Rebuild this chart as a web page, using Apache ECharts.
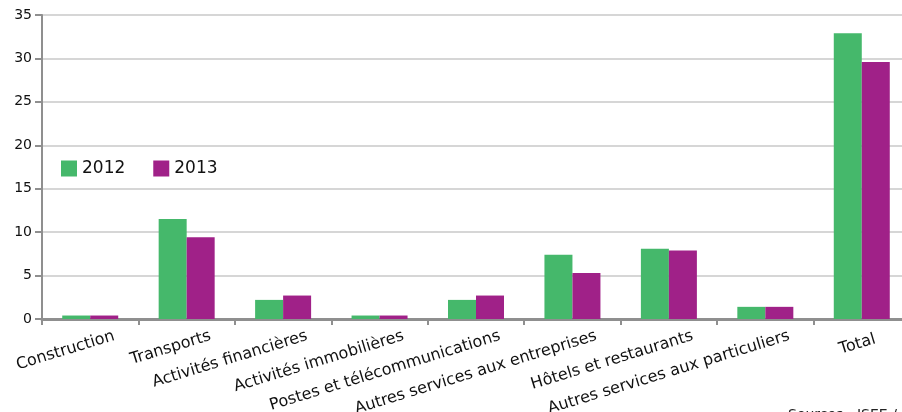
<!DOCTYPE html>
<html>
<head>
<meta charset="utf-8">
<script src="https://cdn.jsdelivr.net/npm/echarts@6/dist/echarts.min.js"></script>
<style>
	html, body { margin: 0; padding: 0; background: #fff; }
	#chartDom { width: 902px; height: 412px; }
</style>
</head>
<body>
<div id="chartDom"></div>
<script>
var categories = ['Construction', 'Transports', 'Activités financières', 'Activités immobilières',
	'Postes et télécommunications', 'Autres services aux entreprises', 'Hôtels et restaurants',
	'Autres services aux particuliers', 'Total'];
var values2012 = [0.4, 11.5, 2.2, 0.4, 2.2, 7.4, 8.1, 1.4, 32.9];
var values2013 = [0.4, 9.4, 2.7, 0.4, 2.7, 5.3, 7.9, 1.4, 29.6];
var seriesNames = ['2012', '2013'];
var sourceText = 'Sources : ISEE / IEOM';

barchart();

function barchart() {
	var myChart = echarts.init(document.getElementById('chartDom'));
	var font = 'DejaVu Sans';
	var option = {
		animation: false,
		textStyle: { fontFamily: font },
		legend: {
			left: 61,
			top: 160,
			padding: 0,
			itemWidth: 16,
			itemHeight: 16,
			itemGap: 28,
			icon: 'rect',
			textStyle: { color: '#111', fontSize: 17, fontFamily: font },
			data: seriesNames
		},
		graphic: [{
			type: 'text',
			left: 788,
			top: 408,
			style: { text: sourceText, fill: '#222', font: '14px DejaVu Sans' }
		}],
		grid: {
			left: 42,
			right: -8,
			top: 15,
			bottom: 93,
			outerBoundsMode: 'none',
			containLabel: false
		},
		xAxis: {
			type: 'category',
			data: categories,
			axisLine: {
				lineStyle: { color: '#8f8f8f', width: 3 }
			},
			axisTick: {
				show: true,
				length: 6,
				lineStyle: { color: '#8f8f8f', width: 2 }
			},
			axisLabel: {
				interval: 0,
				rotate: 17,
				margin: 24,
				color: '#111',
				fontSize: 16,
				fontFamily: font,
				padding: [0, -25, 0, 0],
				// the last label sits a bit closer to its tick
				formatter: function(v) {
					return v === 'Total' ? '{t|' + v + '}' : v;
				},
				rich: {
					t: { fontSize: 16, fontFamily: font, color: '#111', padding: [0, 11, 0, 0] }
				}
			}
		},
		yAxis: {
			type: 'value',
			min: 0,
			max: 35,
			interval: 5,
			axisLine: {
				show: true,
				lineStyle: { color: '#8f8f8f', width: 2 }
			},
			axisTick: {
				show: true,
				length: 7,
				lineStyle: { color: '#8f8f8f', width: 2 }
			},
			splitLine: {
				lineStyle: { color: '#d6d6d6', width: 2 }
			},
			axisLabel: {
				color: '#111',
				fontSize: 14,
				fontFamily: font,
				margin: 10
			}
		},
		series: [{
				name: seriesNames[0],
				type: 'bar',
				barWidth: 28,
				barGap: '0%',
				data: values2012,
				itemStyle: { color: '#45b86b' }
			},
			{
				name: seriesNames[1],
				type: 'bar',
				barWidth: 28,
				barGap: '0%',
				data: values2013,
				itemStyle: { color: '#a02188' }
			}
		]
	};
	myChart.setOption(option, true);
}
</script>
</body>
</html>
